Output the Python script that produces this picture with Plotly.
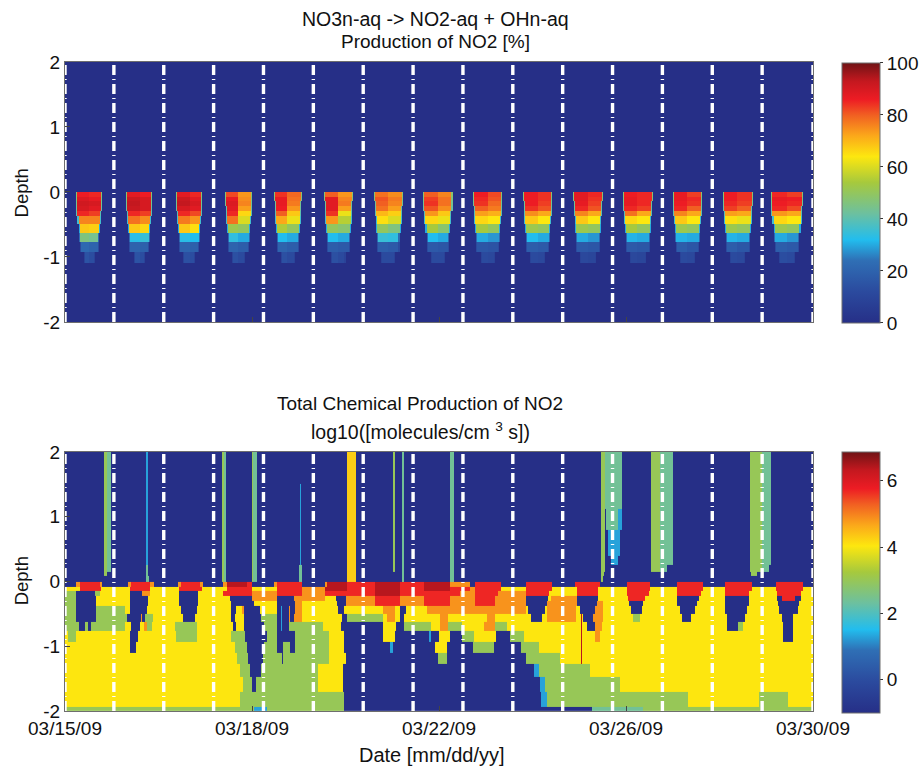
import plotly.graph_objects as go

# ---------- level codes for the lower panel (log10 production) ----------
N, C, G, L, A, Y, O, R, D = -1.0, 1.3, 2.4, 3.0, 4.3, 4.05, 4.85, 5.7, 6.4

date_labels = ["03/15/09", "03/18/09", "03/22/09", "03/26/09", "03/30/09"]
date_ticks = [0, 3.75, 7.5, 11.25, 15]
depth_ticks = [-2, -1, 0, 1, 2]
depth_labels = ["-2", "-1", "0", "1", "2"]
dash_days = [0, 0.98, 1.98, 2.98, 3.98, 4.98, 5.98, 6.98, 7.98, 8.98, 9.98, 10.98, 11.98, 12.98, 13.98, 15]

# depth layer edges (upper panel starts at the surface)
top_edges = [0, -0.077, -0.139, -0.216, -0.293, -0.37, -0.5, -0.63, -0.77, -0.93, -1.1]
low_edges = [2, 1.51, 1.12, 0.79, 0.40, 0.25, 0.14, 0.08, 0, -0.077, -0.139, -0.216, -0.293, -0.37,
             -0.5, -0.63, -0.77, -0.93, -1.1, -1.28, -1.48, -1.71, -1.93, -2]

# ---------- upper panel: daylight window of each day in hours ----------
day_start = [5.3, 29.4, 53.4, 77, 100.6, 124.6, 148.7, 172.4, 196.5, 220.6, 244.7, 268.4, 292.3, 316.4, 339.8]
day_end = [18.1, 42.2, 66.2, 90.2, 113.9, 138.4, 162.5, 186.6, 210.7, 234.7, 258.8, 282.8, 306.7, 331, 355]
layer_inset = [0, 0, 0.2, 0.3, 0.4, 0.6, 1, 1.4, 1.5, 3.5]
layer_fringe = [48, 46, 44, 42, 40, 36, 30, 22, 12, 9]

morning = [
    [86, 89, 91, 90, 85, 76, 68, 46, 22, 15], [88, 92, 93, 92, 85, 78, 68, 33, 20, 15],
    [88, 92, 93, 90, 85, 77, 68, 33, 20, 14], [82, 87, 89, 88, 85, 78, 52, 34, 20, 14],
    [84, 87, 87, 86, 80, 72, 55, 32, 20, 14], [80, 88, 88, 88, 84, 74, 50, 32, 18, 14],
    [78, 81, 80, 78, 70, 65, 50, 35, 18, 12], [80, 83, 84, 81, 74, 66, 54, 32, 17, 12],
    [86, 85, 84, 80, 73, 66, 54, 30, 16, 12], [86, 86, 86, 84, 75, 68, 52, 32, 18, 12],
    [88, 88, 87, 85, 76, 68, 52, 30, 17, 11], [86, 87, 87, 85, 78, 66, 54, 31, 17, 11],
    [87, 87, 86, 85, 76, 68, 52, 31, 18, 12], [86, 86, 85, 83, 73, 65, 52, 31, 18, 12],
    [85, 87, 86, 85, 74, 66, 52, 30, 18, 13]]
afternoon = [
    [85, 87, 90, 88, 83, 76, 67, 44, 20, 13], [86, 90, 90, 90, 83, 75, 66, 35, 19, 13],
    [85, 88, 90, 88, 82, 74, 65, 32, 19, 13], [74, 75, 76, 73, 66, 60, 50, 30, 18, 12],
    [79, 78, 77, 74, 68, 62, 50, 30, 18, 12], [74, 76, 77, 73, 62, 56, 48, 30, 17, 12],
    [75, 77, 76, 73, 67, 60, 46, 34, 17, 12], [76, 78, 78, 75, 68, 62, 48, 30, 16, 12],
    [82, 81, 79, 77, 71, 64, 50, 28, 15, 11], [84, 84, 83, 81, 72, 64, 50, 30, 17, 11],
    [85, 84, 83, 81, 72, 64, 50, 28, 16, 10], [85, 85, 85, 83, 72, 64, 50, 30, 16, 10],
    [83, 85, 84, 80, 72, 64, 50, 30, 16, 11], [84, 84, 83, 80, 72, 62, 50, 30, 16, 11],
    [83, 86, 85, 82, 72, 64, 50, 28, 17, 12]]

# ---------- lower panel: runs per layer, as (end hour, value), top to bottom ----------
u0 = [(18.8,N),(20.2,L),(22,G),(39.2,N),(40,C),(75.7,N),(76.5,L),(77.3,G),(89.8,N),(90.6,L),(92.3,G),(135.5,N),(140,A),(158,N),(159.2,L),(162,N),(163.2,G),(185.3,N),(187,G),(257.8,N),(260,L),(267.9,G),(281.9,N),(286.4,L),(292.5,G),(329.7,N),(335.3,L),(340.1,G),(360,N)]
u1 = [(18.8,N),(20.2,L),(22,G),(39.2,N),(40,C),(75.7,N),(76.5,L),(77.3,G),(89.8,N),(90.6,L),(92.3,G),(112.8,N),(113.4,C),(135.5,N),(140,A),(158,N),(159.2,L),(162,N),(163.2,G),(185.3,N),(187,G),(257.8,N),(260,L),(267.9,G),(281.9,N),(286.4,L),(292.5,G),(329.7,N),(335.3,L),(340.1,G),(360,N)]
u2 = [(18.8,N),(20.2,L),(22,G),(39.2,N),(40,C),(75.7,N),(76.5,L),(77.3,G),(89.8,N),(90.6,L),(92.3,G),(112.8,N),(113.4,C),(135.5,N),(140,A),(158,N),(159.2,L),(162,N),(163.2,G),(185.3,N),(187,G),(257.8,N),(260,L),(260.7,N),(266,G),(268,C),(281.9,N),(286.4,L),(292.5,G),(329.7,N),(335.3,L),(340.1,G),(360,N)]
u3 = [(18.8,N),(20.2,L),(22,G),(39.2,N),(40,C),(75.7,N),(76.5,L),(77.3,G),(89.8,N),(90.6,L),(92.3,G),(112.8,N),(113.4,C),(135.5,N),(140,A),(158,N),(159.2,L),(162,N),(163.2,G),(185.3,N),(187,G),(257.8,N),(260,L),(261.5,N),(267,C),(281.9,N),(286.4,L),(292.5,G),(329.7,N),(335.3,L),(340.1,G),(360,N)]
u4 = [(18.8,N),(20.2,L),(22,G),(39.2,N),(40,C),(75.7,N),(76.5,L),(77.3,G),(89.8,N),(90.6,L),(92.3,G),(112.8,N),(113.4,C),(135.5,N),(140,A),(158,N),(159.2,L),(162,N),(163.2,G),(185.3,N),(187,G),(257.8,N),(260,L),(263,N),(266,C),(281.9,N),(286.4,L),(292.5,G),(329.7,N),(335.3,L),(340.1,G),(360,N)]
u5 = [(18.8,N),(20.2,L),(22,G),(39,N),(40,G),(75.7,N),(76.5,L),(77.3,G),(89.8,N),(90.6,L),(92.3,G),(112.5,N),(114,G),(135.5,N),(140,A),(158,N),(159.2,L),(162,N),(163.2,G),(185.3,N),(187,G),(257.8,N),(260,L),(281.9,N),(286.4,L),(289.5,G),(329.7,N),(335.3,L),(339,G),(360,N)]
u6 = [(18.8,N),(20.2,L),(39,N),(40,G),(75.7,N),(76.5,L),(77.3,G),(89.8,N),(90.6,L),(92.3,G),(112.5,N),(114,G),(135.5,N),(140,A),(162,N),(163.2,G),(185.3,N),(187,G),(257.8,N),(259.5,L),(330,N),(333,L),(360,N)]
u7 = [(39,N),(40.3,G),(75.7,N),(76.5,L),(77.3,G),(89.8,N),(90.6,L),(92.3,G),(112.5,N),(114,G),(135.5,N),(140,A),(162,N),(163.2,G),(185.3,N),(187,G),(257.8,N),(259,L),(360,N)]
s0 = [(5.6,N),(7,O),(16.8,R),(18,O),(30.6,N),(32,O),(41,R),(42.8,O),(54.7,N),(56,O),(65,R),(66.6,O),(75.9,N),(77.8,O),(87.4,D),(89.8,R),(100.6,N),(102,O),(113.9,R),(125,N),(126,O),(135.5,D),(149.2,R),(161.2,D),(173.2,R),(185.3,D),(195,O),(197.3,N),(210,R),(221.9,N),(234.7,R),(245.5,N),(257.5,R),(270.3,N),(281.6,R),(294.4,N),(307.2,R),(317.7,N),(330.5,R),(342.2,N),(355,R),(360,N)]
s1 = [(6.9,Y),(17.6,R),(31.3,Y),(41,R),(55,Y),(65.8,R),(77.8,Y),(89.8,R),(101.9,Y),(113.9,R),(125,O),(135.5,D),(149.2,R),(161.2,D),(173.2,R),(185.3,D),(195,R),(197.3,O),(210,R),(221.9,Y),(234.7,R),(246.3,Y),(256.7,R),(270.3,Y),(281.6,R),(294.4,Y),(307.2,R),(317.7,Y),(330.5,R),(342.2,Y),(355,R),(360,Y)]
s2 = [(5.6,L),(14.4,N),(16.8,L),(31.3,Y),(37,N),(41,O),(55,Y),(64,N),(75.9,Y),(89.8,R),(101.9,O),(113.9,R),(125,O),(149.2,R),(161.2,D),(190,R),(197.3,O),(208.6,R),(221.9,O),(233,R),(246.3,Y),(256.7,R),(270.3,Y),(281,R),(294.4,Y),(306,R),(317.7,Y),(329,R),(342.5,Y),(354,R),(360,Y)]
s3 = [(5.6,L),(15.2,N),(31.3,Y),(39.8,N),(55,Y),(64,N),(79.4,Y),(89.8,N),(101.9,O),(110,N),(125,O),(130.7,Y),(135,N),(149.2,O),(161.2,R),(173,O),(185.3,R),(197.3,O),(207,R),(221.9,O),(232.6,N),(234,Y),(246.3,O),(256.7,N),(271,Y),(279.2,R),(294.5,Y),(304.8,N),(317.7,Y),(329,N),(342.5,Y),(345,N),(351.3,R),(354,N),(360,Y)]
s4 = [(5.6,L),(15.2,N),(31.3,Y),(39.8,N),(55,Y),(64,N),(80.2,Y),(91,N),(101.9,Y),(110.7,N),(114,O),(131,Y),(135,N),(149.2,O),(161.2,R),(173,O),(185.3,R),(197.3,O),(207,R),(221.9,O),(232,N),(246.5,O),(256,N),(259,O),(271.5,Y),(278,N),(294.6,Y),(304,N),(317.7,Y),(329,N),(342.8,Y),(353.7,N),(360,Y)]
s5 = [(5.6,L),(15.2,N),(29,L),(31.3,Y),(39.3,N),(56,Y),(63.4,N),(80,Y),(82.5,N),(85,Y),(86,O),(93.8,N),(102,Y),(104,N),(104.6,C),(108,N),(108.6,O),(110.7,N),(114,O),(131.5,Y),(134.7,N),(153,Y),(159,O),(161,Y),(164,N),(174,Y),(221.9,O),(223,Y),(231,N),(232,Y),(246,O),(248,Y),(255,N),(259,O),(272.7,Y),(277.5,N),(296,Y),(303.2,N),(317.7,Y),(328,N),(343.3,Y),(353,N),(360,Y)]
s6 = [(5.6,L),(15,N),(30,L),(36.5,N),(37.2,O),(38.5,N),(42.5,L),(57,Y),(62.5,N),(80,Y),(82,N),(85.8,Y),(94.6,N),(102,L),(104,N),(104.6,C),(108,N),(108.6,O),(110,N),(114,O),(133.5,Y),(135.5,N),(153,L),(155,Y),(159,O),(161,Y),(163,N),(180.5,Y),(184.5,O),(203,Y),(207,O),(224.6,Y),(229.4,N),(232,Y),(246,O),(248.5,Y),(249,D),(249.5,Y),(254,N),(258.8,O),(273.5,Y),(276.7,L),(296.8,Y),(301.6,N),(318.5,Y),(327.3,N),(344.9,Y),(350.5,N),(360,Y)]
s7 = [(6.4,L),(9.6,N),(11,L),(12.4,N),(29,L),(32,Y),(36,N),(38,Y),(39.3,O),(42,L),(53,Y),(63.4,L),(81,Y),(82.3,N),(85.8,Y),(96.2,N),(102,L),(104,N),(104.6,C),(108,N),(124,L),(133,Y),(153,N),(159.5,Y),(163,N),(176,L),(180.5,Y),(184.5,O),(191,L),(201.3,Y),(207,O),(212.6,L),(248.5,Y),(249,D),(251,Y),(255,N),(258.3,O),(318.5,Y),(324,N),(326.5,L),(345.7,Y),(350.5,N),(360,Y)]
s8 = [(1.6,Y),(5.3,L),(31.3,Y),(35,N),(53.7,Y),(63.4,L),(80,Y),(86.6,L),(97,N),(102,L),(110.5,N),(127,L),(134.7,Y),(153,N),(159,Y),(175,N),(176,C),(180,N),(185.3,Y),(191,N),(197,L),(207.5,Y),(214,N),(221,L),(248.5,Y),(249,D),(255,Y),(257.5,O),(345.7,Y),(350.5,N),(360,Y)]
s9 = [(31.3,Y),(34.2,N),(81.8,Y),(87.4,L),(96.2,N),(102,L),(105,N),(108.3,L),(110.7,N),(127,L),(134.7,Y),(156.7,N),(158,C),(178,N),(184,Y),(196.5,N),(206.5,L),(219.5,N),(228,L),(248.5,Y),(249,D),(360,Y)]
s10 = [(83,Y),(88,L),(95.5,N),(104.3,L),(105,N),(127,L),(135,Y),(179.7,N),(184,L),(222.2,N),(238,L),(248.5,Y),(249,D),(360,Y)]
s11 = [(84.2,Y),(89,L),(94.6,N),(122,L),(134,Y),(225.4,N),(228,C),(252.7,L),(360,Y)]
s12 = [(85.4,Y),(90,L),(92.2,N),(122,L),(134,Y),(228.6,N),(231,C),(267,L),(360,Y)]
s13 = [(84,Y),(134.5,L),(229,N),(232,C),(300,L),(334,Y),(348,L),(360,Y)]
s14 = [(91,L),(97,C),(134.5,L),(253.5,N),(278,G),(360,L)]
low_layers = [u0, u1, u2, u3, u4, u5, u6, u7, s0, s1, s2, s3, s4, s5, s6, s7, s8, s9, s10, s11, s12, s13, s14]

colors = [[0, "#262f87"], [0.12, "#2b4a9e"], [0.24, "#2f6fb5"], [0.32, "#22bdee"], [0.42, "#6cc0a0"],
          [0.54, "#a6c93d"], [0.64, "#fde70f"], [0.72, "#fba81a"], [0.8, "#f15f22"], [0.86, "#ed1c24"],
          [0.93, "#c4181f"], [1, "#701315"]]

# ---------- grids ----------
STEP = 0.5
NCOL = 720
x_edges = [i * STEP / 24 for i in range(NCOL + 1)]


def expand(runs):
    row, i = [], 0
    for end, val in runs:
        while i < NCOL and (i + 0.5) * STEP <= end:
            row.append(val)
            i += 1
    while i < NCOL:
        row.append(runs[-1][1])
        i += 1
    return row


# upper panel
top_y = [-2] + top_edges[::-1] + [2]
top_rows = []
for k in range(len(layer_inset)):
    row = [0.0] * NCOL
    for d in range(15):
        a, b = day_start[d] + layer_inset[k], day_end[d] - layer_inset[k]
        mid = (a + b) / 2
        for i in range(NCOL):
            h = (i + 0.5) * STEP
            if a <= h < b:
                v = morning[d][k] if h < mid else afternoon[d][k]
                if h < a + 0.5 or h >= b - 0.5:
                    v = layer_fringe[k]
                row[i] = v
    top_rows.append(row)
z_top = [[0.0] * NCOL] + top_rows[::-1] + [[0.0] * NCOL]

# lower panel
low_y = low_edges[::-1]
z_low = [expand(r) for r in low_layers][::-1]

axis_line = "#6e6e6e"
FONT = "Liberation Sans, Arial, sans-serif"
PXW, PXH = 921, 771
LEFT, RIGHT, TOP, BOT = 65, 813, 61.5, 710.7
PW, PH = RIGHT - LEFT, BOT - TOP


def fx(px):
    return (px - LEFT) / PW


def fy(py):
    return (BOT - py) / PH


fig = go.Figure()
fig.add_trace(go.Heatmap(z=z_top, x=x_edges, y=top_y, zmin=0, zmax=100, colorscale=colors, xaxis="x", yaxis="y",
                         hoverinfo="skip",
                         colorbar=dict(x=fx(842), xanchor="left", y=fy(192.5), yanchor="middle", len=260 / PH,
                                       thickness=38, outlinecolor=axis_line, outlinewidth=1, tickvals=[0, 20, 40, 60, 80, 100],
                                       ticks="outside", ticklen=3, tickcolor="#333", xpad=0, ypad=0,
                                       tickfont=dict(size=19, color="#111", family=FONT))))
fig.add_trace(go.Heatmap(z=z_low, x=x_edges, y=low_y, zmin=-1, zmax=6.87, colorscale=colors, xaxis="x2", yaxis="y2",
                         hoverinfo="skip",
                         colorbar=dict(x=fx(842), xanchor="left", y=fy(582), yanchor="middle", len=261 / PH,
                                       thickness=38, outlinecolor=axis_line, outlinewidth=1, tickvals=[0, 2, 4, 6],
                                       ticks="outside", ticklen=3, tickcolor="#333", xpad=0, ypad=0,
                                       tickfont=dict(size=19, color="#111", family=FONT))))

dash_x, dash_y = [], []
for d in dash_days:
    dash_x += [d, d, None]
    dash_y += [-2, 2, None]
for ax, ay in [("x", "y"), ("x2", "y2")]:
    fig.add_trace(go.Scatter(x=dash_x, y=dash_y, mode="lines", xaxis=ax, yaxis=ay, showlegend=False, hoverinfo="skip",
                             line=dict(color="white", width=3.4, dash="10px,4px,1px,4px")))

common_y = dict(range=[-2, 2], tickvals=depth_ticks, ticktext=depth_labels, ticks="inside", ticklen=5, tickcolor="#444", showgrid=False, zeroline=False,
                showline=True, linecolor=axis_line, mirror=True, linewidth=1, automargin=False,
                tickfont=dict(size=19, color="#111", family=FONT))
common_x = dict(range=[0, 15], tickvals=date_ticks, ticks="inside", ticklen=5, tickcolor="#444", showgrid=False, zeroline=False,
                showline=True, linecolor=axis_line, mirror=True, linewidth=1, automargin=False)


def note(text, px, py, size=19, angle=0):
    return dict(text=text, x=fx(px), y=fy(py), xref="paper", yref="paper", showarrow=False, textangle=angle,
                xanchor="center", yanchor="middle", font=dict(size=size, family=FONT, color="#111"))


fig.update_layout(
    width=PXW, height=PXH, margin=dict(l=LEFT, r=PXW - RIGHT, t=TOP, b=PXH - BOT, autoexpand=False), paper_bgcolor="white", plot_bgcolor="white", showlegend=False,
    font=dict(family=FONT, color="#111"),
    xaxis=dict(common_x, domain=[0, 1], anchor="y", showticklabels=False),
    yaxis=dict(common_y, domain=[fy(321.5), 1], anchor="x"),
    xaxis2=dict(common_x, domain=[0, 1], anchor="y2", ticktext=date_labels, tickfont=dict(size=19, color="#111", family=FONT)),
    yaxis2=dict(common_y, domain=[0, fy(451.5)], anchor="x2"),
    annotations=[
        note("NO3n-aq -> NO2-aq + OHn-aq", 435, 18, 19.5),
        note("Production of NO2 [%]", 435, 41),
        note("Total Chemical Production of NO2", 420, 403),
        note("log10([molecules/cm <sup>3</sup> s])", 420, 431, 19.5),
        note("Date [mm/dd/yy]", 432, 755, 20),
        note("Depth", 21, 193, 18.5, -90),
        note("Depth", 21, 581, 18.5, -90),
    ],
)
fig.write_html("out.html", config={"displayModeBar": False},
               post_script="document.body.style.margin='0';document.documentElement.style.overflow='hidden';")
